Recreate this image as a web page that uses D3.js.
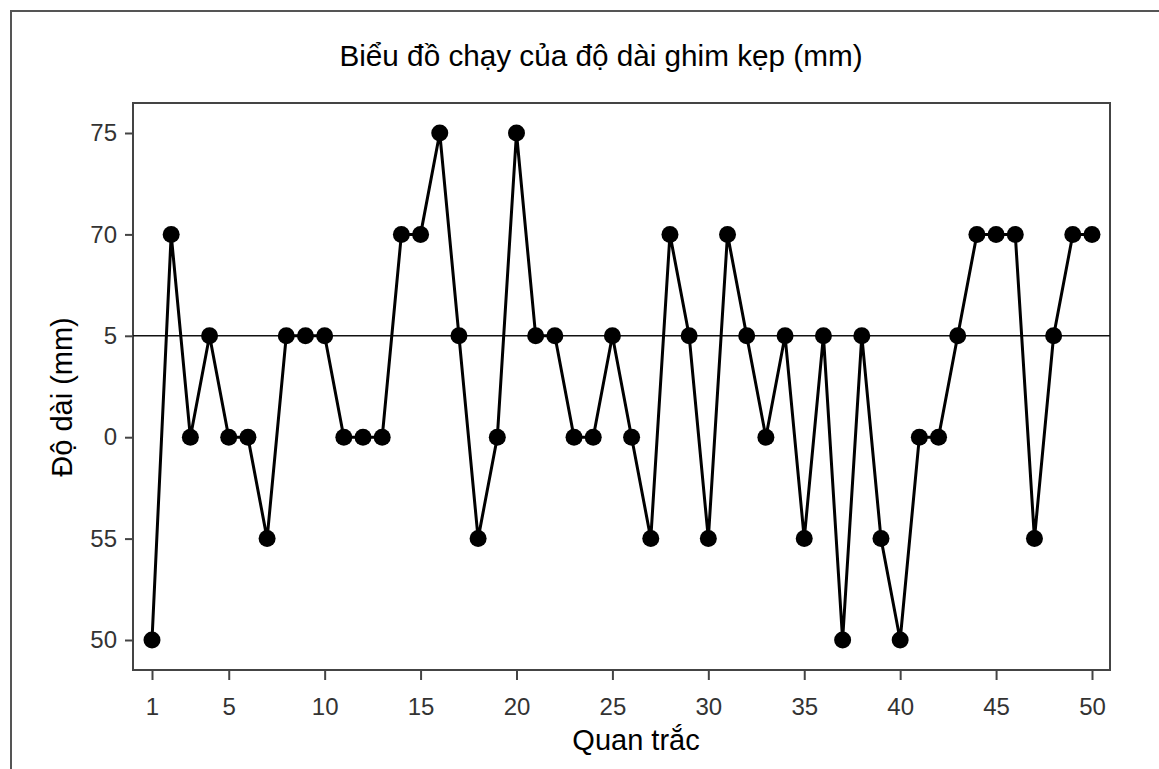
<!DOCTYPE html>
<html>
<head>
<meta charset="utf-8">
<script src="https://cdn.jsdelivr.net/npm/d3@7"></script>
<style>
  html, body { margin: 0; padding: 0; background: #fff; }
  svg { display: block; font-family: "Liberation Sans", Arial, sans-serif; }
</style>
</head>
<body>
<svg id="chart" width="1159" height="769"></svg>
<script>
// ---- Data ----
const observations = d3.range(1, 51);
const lengths = [
  50, 70, 60, 65, 60, 60, 55, 65, 65, 65,
  60, 60, 60, 70, 70, 75, 65, 55, 60, 75,
  65, 65, 60, 60, 65, 60, 55, 70, 65, 55,
  70, 65, 60, 65, 55, 65, 50, 65, 55, 50,
  60, 60, 65, 70, 70, 70, 55, 65, 70, 70
];
const centerValue = 65;
const xTickValues = [1, 5, 10, 15, 20, 25, 30, 35, 40, 45, 50];
const yTickValues = [50, 55, 60, 65, 70, 75];
const yTickLabels = ["50", "55", "0", "5", "70", "75"];
const titleText = "Biểu đồ chạy của độ dài ghim kẹp (mm)";
const xLabelText = "Quan trắc";
const yLabelText = "Độ dài (mm)";

// ---- Layout ----
const svg = d3.select("#chart");
const frame = { left: 133, right: 1110, top: 103, bottom: 670 };

const x = d3.scaleLinear().domain([1, 50]).range([152, 1092]);
const y = d3.scaleLinear().domain([50, 75]).range([640, 133]);

// outer border (top + left visible, open right/bottom)
svg.append("rect")
  .attr("x", 11).attr("y", 11)
  .attr("width", 1300).attr("height", 1000)
  .attr("fill", "none").attr("stroke", "#555").attr("stroke-width", 2);

// title
svg.append("text")
  .attr("x", 601).attr("y", 66)
  .attr("text-anchor", "middle")
  .attr("font-size", 29.7).attr("fill", "#000")
  .text(titleText);

// plot frame
svg.append("rect")
  .attr("x", frame.left).attr("y", frame.top)
  .attr("width", frame.right - frame.left).attr("height", frame.bottom - frame.top)
  .attr("fill", "none").attr("stroke", "#444").attr("stroke-width", 2);

// axes
const yAxis = svg.append("g")
  .attr("transform", `translate(${frame.left},0)`)
  .call(d3.axisLeft(y).tickValues(yTickValues)
    .tickFormat((d, i) => yTickLabels[i]).tickSize(8).tickPadding(8));
const xAxis = svg.append("g")
  .attr("transform", `translate(0,${frame.bottom})`)
  .call(d3.axisBottom(x).tickValues(xTickValues).tickSize(10).tickPadding(18));

[yAxis, xAxis].forEach(g => {
  g.select(".domain").remove();
  g.selectAll(".tick line").attr("stroke", "#444").attr("stroke-width", 2);
  g.selectAll(".tick text").attr("font-size", 24).attr("fill", "#333")
    .attr("font-family", "Liberation Sans, Arial, sans-serif");
});

// axis titles
svg.append("text")
  .attr("x", 636).attr("y", 750)
  .attr("text-anchor", "middle")
  .attr("font-size", 29).attr("fill", "#000")
  .text(xLabelText);
svg.append("text")
  .attr("transform", "translate(72,397) rotate(-90)")
  .attr("text-anchor", "middle")
  .attr("font-size", 29).attr("fill", "#000")
  .text(yLabelText);

// center line
svg.append("line")
  .attr("x1", frame.left).attr("x2", frame.right)
  .attr("y1", y(centerValue)).attr("y2", y(centerValue))
  .attr("stroke", "#111").attr("stroke-width", 1.5);

// run line
const pts = observations.map((o, i) => [o, lengths[i]]);
svg.append("path")
  .datum(pts)
  .attr("fill", "none").attr("stroke", "#000").attr("stroke-width", 3)
  .attr("d", d3.line().x(d => x(d[0])).y(d => y(d[1])));

svg.append("g").selectAll("circle")
  .data(pts).join("circle")
  .attr("cx", d => x(d[0])).attr("cy", d => y(d[1]))
  .attr("r", 8.5).attr("fill", "#000");
</script>
</body>
</html>
